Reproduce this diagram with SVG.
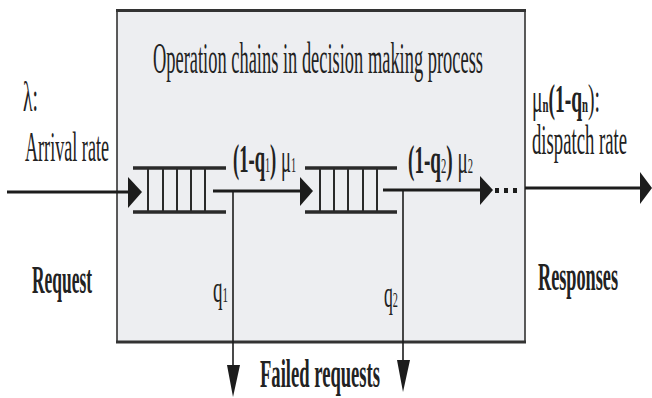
<svg xmlns="http://www.w3.org/2000/svg" width="652" height="398" viewBox="0 0 652 398">
<style>
.t{font-family:"Liberation Serif","Times New Roman",serif;fill:#222;}
.b{font-weight:bold;}
.ln{stroke:#1c1c1c;fill:none;}
.ah{fill:#1c1c1c;}
.bar{stroke:#2a2a2a;stroke-width:3.5;}
.rung{stroke:#2a2a2a;stroke-width:2;}
</style>
<rect width="652" height="398" fill="#ffffff"/>
<g id="process">
<rect x="117" y="10" width="408" height="332" fill="#edeef1" stroke="#333" stroke-width="1.6"/>
<line x1="116" y1="10.5" x2="526" y2="10.5" stroke="#333" stroke-width="3"/>
<line x1="116" y1="342" x2="526" y2="342" stroke="#333" stroke-width="3"/>
<text class="t" x="153" y="73" font-size="44" textLength="330" lengthAdjust="spacingAndGlyphs">Operation chains in decision making process</text>
</g>
<g id="connectors">
<line class="ln" x1="7" y1="192" x2="130" y2="192" stroke-width="3.2"/>
<polygon class="ah" points="128,177 142,192 128,208"/>
<line class="ln" x1="213" y1="191" x2="302" y2="191" stroke-width="3.2"/>
<polygon class="ah" points="300,177 313,191 300,206"/>
<line class="ln" x1="383" y1="190" x2="482" y2="190" stroke-width="3.2"/>
<polygon class="ah" points="480,176 493,190 480,205"/>
<rect class="ah" x="495" y="188" width="4" height="5"/>
<rect class="ah" x="504" y="188" width="4" height="5"/>
<rect class="ah" x="513" y="188" width="4" height="5"/>
<line class="ln" x1="525" y1="188" x2="642" y2="188" stroke-width="3.2"/>
<polygon class="ah" points="640,172 652,188 640,204"/>
<line class="ln" x1="233" y1="191" x2="233" y2="368" stroke-width="1.6"/>
<polygon class="ah" points="227,365 240,365 233,397"/>
<line class="ln" x1="403" y1="190" x2="403" y2="362" stroke-width="1.6"/>
<polygon class="ah" points="397,360 410,360 403,392"/>
</g>
<g id="queue1">
<line class="bar" x1="133" y1="168" x2="226" y2="168"/>
<line class="bar" x1="133" y1="212" x2="226" y2="212"/>
<line class="rung" x1="148" y1="168" x2="148" y2="212"/>
<line class="rung" x1="163" y1="168" x2="163" y2="212"/>
<line class="rung" x1="177" y1="168" x2="177" y2="212"/>
<line class="rung" x1="191" y1="168" x2="191" y2="212"/>
<line class="rung" x1="205" y1="168" x2="205" y2="212"/>
</g>
<g id="queue2">
<line class="bar" x1="305" y1="168" x2="397" y2="168"/>
<line class="bar" x1="305" y1="212" x2="397" y2="212"/>
<line class="rung" x1="320" y1="168" x2="320" y2="212"/>
<line class="rung" x1="334" y1="168" x2="334" y2="212"/>
<line class="rung" x1="348" y1="168" x2="348" y2="212"/>
<line class="rung" x1="363" y1="168" x2="363" y2="212"/>
<line class="rung" x1="377" y1="168" x2="377" y2="212"/>
</g>
<g id="input">
<text class="t" x="23" y="111" font-size="42" textLength="15" lengthAdjust="spacingAndGlyphs">λ:</text>
<text class="t" x="25" y="161" font-size="42" textLength="84" lengthAdjust="spacingAndGlyphs">Arrival rate</text>
<text class="t b" x="32" y="293" font-size="40" textLength="60" lengthAdjust="spacingAndGlyphs">Request</text>
</g>
<g id="rate1">
<text class="t" x="233" y="172" font-size="40" textLength="63" lengthAdjust="spacingAndGlyphs"><tspan class="b">(1-q</tspan><tspan font-size="22">1</tspan><tspan class="b">)</tspan> μ<tspan font-size="22">1</tspan></text>
</g>
<g id="rate2">
<text class="t" x="408" y="173" font-size="40" textLength="65" lengthAdjust="spacingAndGlyphs"><tspan class="b">(1-q</tspan><tspan font-size="22">2</tspan><tspan class="b">)</tspan> μ<tspan font-size="22">2</tspan></text>
</g>
<g id="output">
<text class="t" x="532" y="112" font-size="40" textLength="68" lengthAdjust="spacingAndGlyphs">μ<tspan font-size="22" class="b">n</tspan><tspan class="b">(1-q</tspan><tspan font-size="22" class="b">n</tspan>):</text>
<text class="t" x="532" y="154" font-size="42" textLength="95" lengthAdjust="spacingAndGlyphs">dispatch rate</text>
<text class="t b" x="538" y="290" font-size="40" textLength="80" lengthAdjust="spacingAndGlyphs">Responses</text>
</g>
<g id="failed">
<text class="t" x="213" y="302" font-size="38" textLength="15" lengthAdjust="spacingAndGlyphs">q<tspan font-size="22">1</tspan></text>
<text class="t" x="384" y="307" font-size="38" textLength="14" lengthAdjust="spacingAndGlyphs">q<tspan font-size="22">2</tspan></text>
<text class="t b" x="260" y="387" font-size="40" textLength="120" lengthAdjust="spacingAndGlyphs">Failed requests</text>
</g>
</svg>
